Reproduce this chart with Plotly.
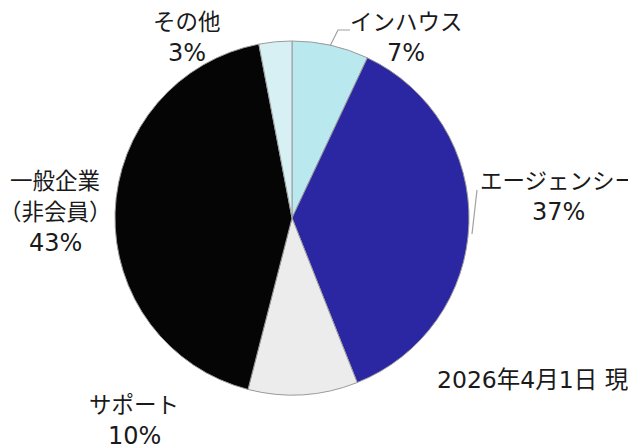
import plotly.graph_objects as go

# ---- data ----
categories = ["インハウス", "エージェンシー", "サポート", "一般企業（非会員）", "その他"]
label_lines = [["インハウス"], ["エージェンシー"], ["サポート"], ["一般企業", "（非会員）"], ["その他"]]
values = [7, 37, 10, 43, 3]
colors = ["#b9e8ee", "#2b27a3", "#ececec", "#050505", "#d7f0f4"]
date_note = "2026年4月1日 現在"

W, H = 636, 444
OFF = 8  # page body margin in the browser
FONT = "DejaVu Sans, Noto Sans CJK JP, sans-serif"


def px(x):
    return (x - OFF) / W


def py(y):
    return 1 - (y - OFF) / H


# pie placement (window pixels)
cx, cy, r = 292, 218, 177

fig = go.Figure(go.Pie(
    labels=categories,
    values=values,
    sort=False,
    direction="clockwise",
    rotation=0,
    marker=dict(colors=colors, line=dict(color="#9a9a9a", width=1)),
    textinfo="none",
    hoverinfo="label+percent",
    showlegend=False,
    domain=dict(x=[px(cx - r), px(cx + r)], y=[py(cy + r), py(cy - r)]),
))

# label anchor positions in window pixels (first line centre)
label_pos = {
    "インハウス": (406, 22),
    "エージェンシー": (558, 181),
    "サポート": (134, 405),
    "一般企業（非会員）": (55, 181),
    "その他": (187, 22),
}
line_step = 31

annotations = []
total = sum(values)
for cat, lines, v in zip(categories, label_lines, values):
    x, y = label_pos[cat]
    allines = lines + [f"{round(100 * v / total)}%"]
    for i, t in enumerate(allines):
        is_pct = i == len(allines) - 1
        annotations.append(dict(
            text=t, x=px(x), y=py(y + i * line_step), xref="paper", yref="paper",
            xanchor="center", yanchor="middle", showarrow=False,
            font=dict(family=FONT, size=24 if is_pct else 22.5, color="#1a1a1a"),
        ))

annotations.append(dict(
    text=date_note, x=px(435), y=py(380), xref="paper", yref="paper",
    xanchor="left", yanchor="middle", showarrow=False,
    font=dict(family=FONT, size=23.5, color="#1a1a1a"),
))

# leader lines
shapes = [
    dict(type="path", path=f"M {px(330)} {py(46)} L {px(338)} {py(30)} L {px(350)} {py(30)}",
         xref="paper", yref="paper", line=dict(color="#a0a0a0", width=1.2)),
    dict(type="line", x0=px(472), y0=py(234), x1=px(477), y1=py(190),
         xref="paper", yref="paper", line=dict(color="#a0a0a0", width=1.2)),
]

fig.update_layout(
    width=W, height=H,
    margin=dict(l=0, r=0, t=0, b=0),
    paper_bgcolor="white", plot_bgcolor="white",
    annotations=annotations, shapes=shapes,
)

fig.write_html("out.html")
